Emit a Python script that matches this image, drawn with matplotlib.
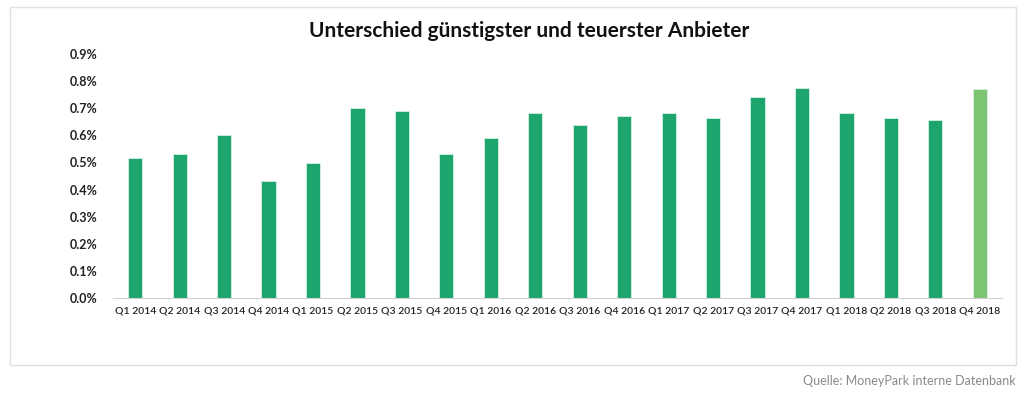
import matplotlib.pyplot as plt
from matplotlib.patches import Rectangle
from matplotlib.ticker import FuncFormatter

plt.rcParams['font.family'] = ['Lato', 'DejaVu Sans']

quartale = ['Q1 2014', 'Q2 2014', 'Q3 2014', 'Q4 2014', 'Q1 2015', 'Q2 2015', 'Q3 2015',
            'Q4 2015', 'Q1 2016', 'Q2 2016', 'Q3 2016', 'Q4 2016', 'Q1 2017', 'Q2 2017',
            'Q3 2017', 'Q4 2017', 'Q1 2018', 'Q2 2018', 'Q3 2018', 'Q4 2018']
unterschied = [0.517, 0.531, 0.601, 0.432, 0.498, 0.701, 0.690, 0.531, 0.590, 0.683,
               0.638, 0.672, 0.683, 0.664, 0.742, 0.775, 0.683, 0.664, 0.657, 0.771]

farben = ['#1da56e'] * (len(quartale) - 1) + ['#7dc473']

fig = plt.figure(figsize=(10.24, 3.94), dpi=100)
ax = fig.add_axes([113 / 1024, 1 - 298 / 394, 889 / 1024, 244 / 394])

x = range(len(quartale))
ax.bar(x, unterschied, width=0.32, color=farben, edgecolor='#d9f0e3', linewidth=0.6)

ax.set_xlim(-0.5, len(quartale) - 0.5)
ax.set_ylim(0, 0.9)
ax.set_yticks([i / 10 for i in range(10)])
ax.yaxis.set_major_formatter(FuncFormatter(lambda v, p: f'{v:.1f}%'))
ax.set_xticks(list(x))
ax.set_xticklabels(quartale)
ax.tick_params(axis='both', length=0, colors='#222222')
ax.tick_params(axis='y', pad=11, labelsize=9)
ax.tick_params(axis='x', pad=6, labelsize=7.5)
for lbl in ax.get_yticklabels():
    lbl.set_fontweight('bold')
for lbl in ax.get_xticklabels():
    lbl.set_fontweight('semibold')

for s in ['top', 'right', 'left']:
    ax.spines[s].set_visible(False)
ax.spines['bottom'].set_color('#d0d0d0')

fig.text(0.517, 1 - 31 / 394, 'Unterschied günstigster und teuerster Anbieter',
         ha='center', va='center', fontsize=15, fontweight='bold', color='#111111')

fig.patches.append(Rectangle((10 / 1024, 1 - 365 / 394), 1006 / 1024, 358 / 394,
                             transform=fig.transFigure, fill=False,
                             edgecolor='#e0e0e0', linewidth=1))

fig.text(1016 / 1024, 1 - 381 / 394, 'Quelle: MoneyPark interne Datenbank',
         ha='right', va='center', fontsize=9, color='#8a8a8a')

fig.savefig('out.png', dpi=100)
